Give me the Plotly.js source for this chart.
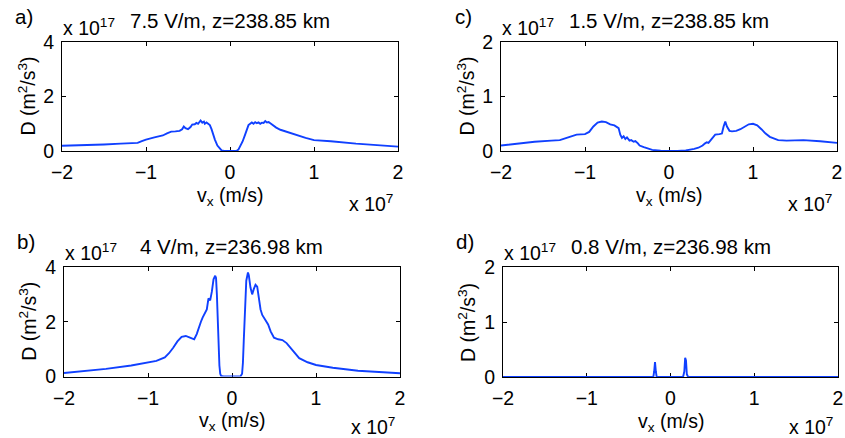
<!DOCTYPE html>
<html><head><meta charset="utf-8">
<script src="https://cdn.plot.ly/plotly-3.0.1.min.js"></script>
<style>html,body{margin:0;padding:0;background:#fff}#chart{width:845px;height:438px}</style>
</head><body><div id="chart"></div>
<script>
// x in units of 1e7 m/s, D in units of 1e17 m^2/s^3
const xA = [-2, -1.8, -1.5, -1.3, -1.15, -1.1, -1.05, -1.0, -0.9, -0.8, -0.75, -0.7, -0.65, -0.6, -0.57, -0.55, -0.53, -0.5, -0.47, -0.45, -0.42, -0.4, -0.38, -0.36, -0.35, -0.33, -0.31, -0.3, -0.28, -0.26, -0.24, -0.22, -0.2, -0.18, -0.15, -0.12, -0.1, -0.07, -0.05, 0, 0.05, 0.08, 0.1, 0.12, 0.15, 0.18, 0.2, 0.22, 0.24, 0.26, 0.28, 0.3, 0.32, 0.34, 0.36, 0.38, 0.4, 0.42, 0.44, 0.46, 0.48, 0.5, 0.53, 0.55, 0.6, 0.65, 0.7, 0.8, 0.9, 1.0, 1.2, 1.5, 1.8, 2];
const yA = [0.19, 0.2, 0.24, 0.27, 0.28, 0.3, 0.36, 0.42, 0.5, 0.57, 0.65, 0.71, 0.72, 0.74, 0.8, 0.9, 0.84, 0.8, 0.88, 0.97, 0.98, 1.03, 1.0, 1.06, 1.12, 1.04, 1.08, 1.0, 1.05, 1.0, 0.95, 0.8, 0.6, 0.42, 0.2, 0.07, 0.02, 0.0, 0, 0, 0, 0.01, 0.05, 0.15, 0.35, 0.6, 0.8, 0.95, 1.0, 1.05, 1.0, 1.06, 1.02, 1.05, 1.0, 1.04, 1.03, 1.1, 1.05, 1.06, 1.02, 0.97, 0.9, 0.86, 0.78, 0.73, 0.66, 0.57, 0.48, 0.4, 0.36, 0.27, 0.2, 0.16];

const xB = [-2, -1.5, -1.2, -1.0, -0.9, -0.8, -0.75, -0.7, -0.65, -0.6, -0.55, -0.5, -0.45, -0.42, -0.4, -0.37, -0.35, -0.32, -0.3, -0.28, -0.26, -0.24, -0.22, -0.2, -0.19, -0.18, -0.17, -0.16, -0.15, -0.14, -0.13, -0.1, 0, 0.1, 0.12, 0.13, 0.14, 0.15, 0.16, 0.17, 0.19, 0.2, 0.22, 0.24, 0.26, 0.28, 0.3, 0.32, 0.34, 0.36, 0.4, 0.43, 0.46, 0.5, 0.55, 0.6, 0.65, 0.7, 0.75, 0.8, 0.9, 1.0, 1.2, 1.5, 2];
const yB = [0.13, 0.28, 0.4, 0.5, 0.57, 0.7, 0.85, 1.05, 1.28, 1.45, 1.48, 1.42, 1.36, 1.55, 1.75, 2.0, 2.15, 2.3, 2.45, 2.85, 2.78, 3.1, 3.55, 3.68, 3.6, 3.0, 2.0, 1.0, 0.4, 0.1, 0.02, 0, 0, 0, 0.1, 0.5, 1.3, 2.2, 3.0, 3.5, 3.8, 3.7, 3.25, 3.0, 3.2, 3.35, 3.28, 2.9, 2.45, 2.25, 2.05, 1.9, 1.65, 1.42, 1.36, 1.33, 1.22, 1.05, 0.85, 0.67, 0.52, 0.42, 0.32, 0.21, 0.12];

const xC = [-2, -1.8, -1.6, -1.4, -1.3, -1.2, -1.1, -1.0, -0.95, -0.9, -0.85, -0.8, -0.75, -0.7, -0.65, -0.6, -0.58, -0.56, -0.54, -0.52, -0.5, -0.47, -0.45, -0.42, -0.4, -0.37, -0.35, -0.3, -0.25, -0.2, -0.1, 0, 0.1, 0.2, 0.25, 0.3, 0.35, 0.4, 0.43, 0.45, 0.47, 0.5, 0.55, 0.6, 0.63, 0.65, 0.67, 0.69, 0.72, 0.75, 0.8, 0.85, 0.9, 0.95, 1.0, 1.05, 1.1, 1.15, 1.2, 1.3, 1.4, 1.6, 1.8, 2];
const yC = [0.1, 0.14, 0.17, 0.19, 0.2, 0.25, 0.3, 0.31, 0.35, 0.45, 0.52, 0.54, 0.53, 0.49, 0.47, 0.42, 0.3, 0.24, 0.27, 0.22, 0.25, 0.19, 0.2, 0.17, 0.18, 0.14, 0.1, 0.07, 0.04, 0.02, 0.005, 0, 0.002, 0.01, 0.02, 0.04, 0.06, 0.1, 0.14, 0.16, 0.15, 0.2, 0.3, 0.31, 0.32, 0.45, 0.54, 0.45, 0.37, 0.36, 0.37, 0.4, 0.45, 0.49, 0.5, 0.47, 0.4, 0.32, 0.26, 0.2, 0.19, 0.2, 0.18, 0.15];

const xD = [-2, -0.22, -0.205, -0.195, -0.185, -0.175, -0.165, 0.15, 0.165, 0.175, 0.185, 0.195, 0.21, 2];
const yD = [0, 0, 0, 0.1, 0.27, 0.1, 0, 0, 0.1, 0.35, 0.3, 0.05, 0, 0];

const labels = ['a)', 'b)', 'c)', 'd)'];
const titles = ['7.5 V/m, z=238.85 km', '4 V/m, z=236.98 km', '1.5 V/m, z=238.85 km', '0.8 V/m, z=236.98 km'];
const yMax = [4, 4, 2, 2];
const yTicks = [[0, 2, 4], [0, 2, 4], [0, 1, 2], [0, 1, 2]];
const xTicks = [-2, -1, 0, 1, 2];
const xTitle = 'v<sub>x</sub> (m/s)';
const yTitle = 'D (m<sup>2</sup>/s<sup>3</sup>)';
const xMult = 'x 10<sup>7</sup>';
const yMult = 'x 10<sup>17</sup>';

const W = 845, H = 438;
const FONT = 'Liberation Sans, Arial, Helvetica, sans-serif';
const FS = 19.5, FT = 20.5;
const BLUE = 'rgb(16,64,255)';
const px = x => x / W, py = y => 1 - y / H;

// pixel boxes of the four panels: a, b, c, d
const boxes = [
  {l: 62, r: 398, t: 42, b: 151},
  {l: 64, r: 400, t: 267, b: 376.5},
  {l: 501, r: 837, t: 42, b: 151},
  {l: 503, r: 838, t: 267, b: 377}
];
const multOffset = [52, 49, 52, 49];
const series = [[xA, yA], [xB, yB], [xC, yC], [xD, yD]];

const data = [];
const layout = {
  width: W, height: H, margin: {l: 0, r: 0, t: 0, b: 0},
  paper_bgcolor: '#fff', plot_bgcolor: '#fff', showlegend: false,
  font: {family: FONT, size: FS, color: '#000'},
  annotations: []
};

function ann(text, x, y, o) {
  layout.annotations.push(Object.assign({
    text: text, xref: 'paper', yref: 'paper', x: px(x), y: py(y),
    showarrow: false, xanchor: 'center', yanchor: 'middle', borderpad: 0,
    font: {family: FONT, size: FS, color: '#000'}
  }, o || {}));
}

for (let i = 0; i < 4; i++) {
  const n = i === 0 ? '' : String(i + 1);
  const bx = boxes[i];
  data.push({
    x: series[i][0], y: series[i][1], type: 'scatter', mode: 'lines',
    xaxis: 'x' + n, yaxis: 'y' + n, cliponaxis: false,
    line: {color: BLUE, width: 1.9}, hoverinfo: 'skip'
  });
  const common = {
    showline: true, linecolor: '#000', linewidth: 1, mirror: 'allticks',
    ticks: 'inside', ticklen: 4, tickcolor: '#000', tickwidth: 1,
    showgrid: false, zeroline: false, layer: 'below traces', fixedrange: true,
    tickfont: {family: FONT, size: FS, color: '#000'}
  };
  layout['xaxis' + n] = Object.assign({}, common, {
    domain: [px(bx.l), px(bx.r)], range: [-2, 2], tickvals: xTicks,
    anchor: 'y' + n, ticklabelstandoff: 4
  });
  layout['yaxis' + n] = Object.assign({}, common, {
    domain: [py(bx.b), py(bx.t)], range: [0, yMax[i]], tickvals: yTicks[i],
    anchor: 'x' + n, ticklabelstandoff: 3
  });
  const cx = (bx.l + bx.r) / 2;
  ann(labels[i], bx.l - 38, bx.t - 26, {font: {family: FONT, size: FT, color: '#000'}});
  ann(yMult, bx.l, bx.t - 2, {xanchor: 'left', yanchor: 'bottom'});
  ann(titles[i], cx, bx.t - 21, {font: {family: FONT, size: FT, color: '#000'}});
  ann(yTitle, bx.l - 36, (bx.t + bx.b) / 2, {textangle: -90});
  ann(xTitle, cx, bx.b + 45);
  ann(xMult, bx.r - 4, bx.b + multOffset[i], {xanchor: 'right'});
}

Plotly.newPlot('chart', data, layout, {displayModeBar: false, staticPlot: true});
</script></body></html>
